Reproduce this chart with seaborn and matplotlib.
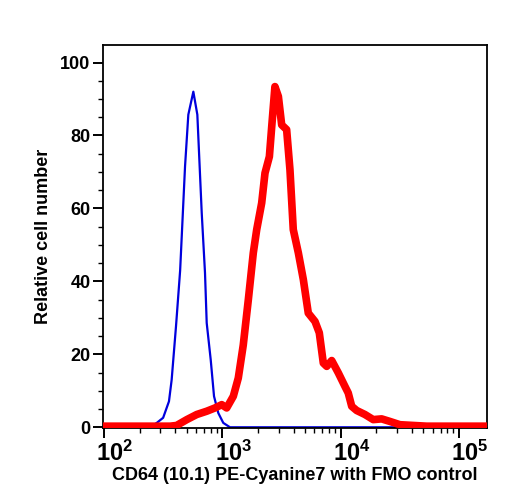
import numpy as np
import pandas as pd
import seaborn as sns
import matplotlib.pyplot as plt
import matplotlib.transforms as mtransforms
from matplotlib.ticker import LogLocator, MultipleLocator, FixedLocator

# --- Data (intensity, relative cell number) ---
fmo_x = [98, 245, 279, 316, 354, 373, 406, 440, 484, 516, 569, 615, 670,
         714, 738, 798, 851, 925, 1019, 1161, 173000]
fmo_y = [0, 0, 1.2, 2.6, 7.1, 13, 27.7, 43, 71.5, 85.7, 92, 85.7, 58.7,
         42.3, 28.6, 18.5, 8.5, 3.9, 1.2, 0, 0]

cd64_x = [98, 363, 411, 501, 608, 738, 867, 989, 1089, 1239, 1365, 1503,
          1660, 1828, 1954, 2153, 2296, 2500, 2618, 2786, 2979, 3177, 3499,
          3733, 3981, 4395, 4842, 5333, 6081, 6607, 7145, 7638, 8414, 9572,
          10890, 11610, 12420, 13680, 16070, 18880, 22230, 26120, 31770,
          53460, 173000]
cd64_y = [0.3, 0.3, 0.5, 2.1, 3.5, 4.4, 5.3, 6.2, 5.3, 8.5, 13.5, 22.5,
          35, 47.8, 54.2, 61.5, 69.7, 74.2, 82.5, 93.4, 90.7, 82.9, 81.6,
          70.6, 54.2, 47.8, 40.5, 31.3, 29, 25.9, 17.6, 16.7, 18.3, 14.9,
          11.2, 9.4, 5.75, 4.6, 3.5, 2.1, 2.3, 1.6, 0.7, 0.3, 0.3]

x_ticks = [1e2, 1e3, 1e4, 1e5]
x_ticklabels = [r"$\mathbf{10^{2}}$", r"$\mathbf{10^{3}}$",
                r"$\mathbf{10^{4}}$", r"$\mathbf{10^{5}}$"]
y_ticks = [0, 20, 40, 60, 80, 100]

fmo = pd.DataFrame({"x": fmo_x, "y": fmo_y})
cd64 = pd.DataFrame({"x": cd64_x, "y": cd64_y})

# --- Style ---
sns.set_style("ticks")
plt.rcParams["font.family"] = ["Liberation Sans", "DejaVu Sans"]
plt.rcParams["font.weight"] = "bold"
plt.rcParams["text.color"] = "black"
plt.rcParams["axes.labelcolor"] = "black"
plt.rcParams["xtick.color"] = "black"
plt.rcParams["ytick.color"] = "black"
plt.rcParams["mathtext.fontset"] = "custom"
plt.rcParams["mathtext.rm"] = "Liberation Sans:bold"
plt.rcParams["mathtext.bf"] = "Liberation Sans:bold"

fig = plt.figure(figsize=(5.08, 5.0), dpi=100)
ax = fig.add_axes([103 / 508, 72 / 500, 384 / 508, 383 / 500])

sns.lineplot(data=fmo, x="x", y="y", color="#0000dd", linewidth=1.6,
             sort=False, ax=ax, zorder=2)
sns.lineplot(data=cd64, x="x", y="y", color="#ff0000", linewidth=5.5,
             sort=False, ax=ax, zorder=3, solid_joinstyle="round")

ax.set_xscale("log")
ax.set_xlim(98, 173000)
ax.set_ylim(-0.2, 104.8)

ax.xaxis.set_major_locator(FixedLocator(x_ticks))
ax.set_xticklabels(x_ticklabels)
ax.xaxis.set_minor_locator(LogLocator(base=10, subs=np.arange(2, 10)))
ax.set_yticks(y_ticks)
ax.yaxis.set_minor_locator(MultipleLocator(5))

ax.tick_params(axis="both", which="major", direction="out", length=7,
               width=1.4, colors="black")
ax.tick_params(axis="both", which="minor", direction="out", length=3.5,
               width=1.0, colors="black")
ax.tick_params(axis="y", labelsize=13, pad=2)
ax.tick_params(axis="x", labelsize=17, pad=2)
for lab in ax.get_yticklabels():
    lab.set_fontweight("bold")

# shift x tick labels so the "10" sits on the tick, as in the original
shift = mtransforms.ScaledTranslation(11 / 100, 0, fig.dpi_scale_trans)
for lab in ax.get_xticklabels():
    lab.set_transform(lab.get_transform() + shift)

for s in ax.spines.values():
    s.set_visible(True)
    s.set_linewidth(1.3)
    s.set_color("black")

ax.set_xlabel("CD64 (10.1) PE-Cyanine7 with FMO control", fontsize=13,
              fontweight="bold", labelpad=1)
ax.set_ylabel("Relative cell number", fontsize=13, fontweight="bold",
              labelpad=6)

fig.savefig("out.png", dpi=100)
